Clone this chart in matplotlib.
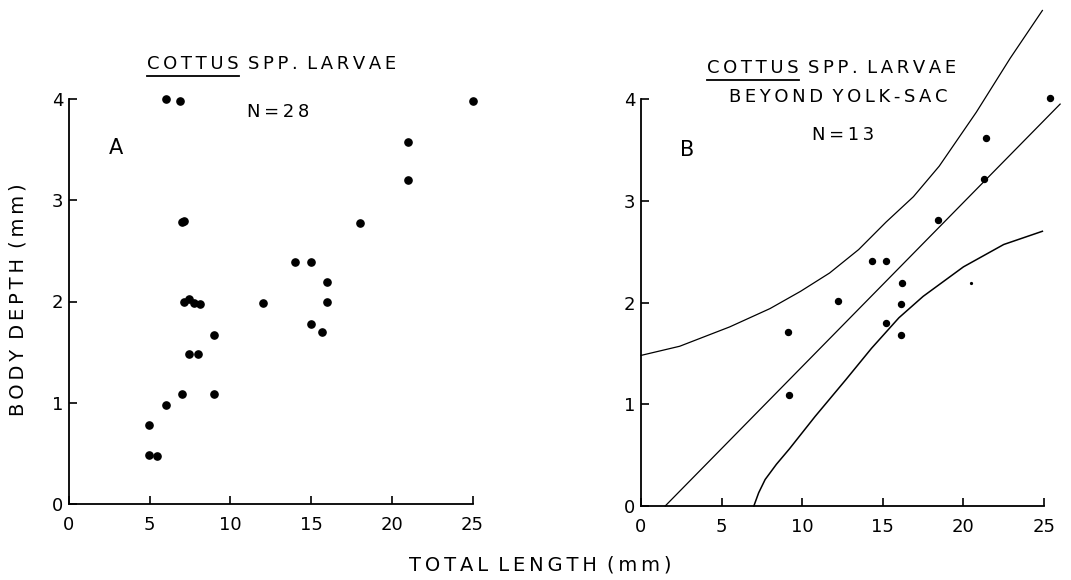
import matplotlib
matplotlib.use('Agg')
import matplotlib.pyplot as plt
from matplotlib.lines import Line2D

# A: all Cottus larvae, total length vs body depth (mm)
len_a = [6.0, 6.85, 7.0, 7.1, 7.15, 7.45, 7.75, 8.1, 12.0, 14.0, 15.0, 16.0,
         16.0, 15.0, 15.7, 9.0, 7.45, 8.0, 7.0, 9.0, 6.0, 4.95, 4.95, 5.45,
         18.0, 21.0, 21.0, 25.0]
depth_a = [4.0, 3.98, 2.79, 2.8, 2.0, 2.02, 1.99, 1.98, 1.99, 2.39, 2.39, 2.19,
           2.0, 1.78, 1.7, 1.67, 1.48, 1.48, 1.09, 1.09, 0.98, 0.78, 0.48, 0.47,
           2.78, 3.58, 3.2, 3.98]

# B: larvae beyond yolk-sac
len_b = [9.15, 9.2, 12.2, 14.35, 15.2, 15.2, 16.1, 16.2, 16.1, 18.4, 21.3, 21.4, 25.4]
depth_b = [1.71, 1.09, 2.01, 2.41, 2.41, 1.80, 1.99, 2.19, 1.68, 2.81, 3.21, 3.62, 4.01]

# regression line and band
fit_x = [1.5, 26.0]
fit_y = [0.0, 3.95]
upper_x = [0, 2.4, 5.5, 8.0, 9.9, 11.7, 13.5, 15.2, 16.9, 18.5, 20.8, 22.9, 24.9]
upper_y = [1.48, 1.57, 1.76, 1.94, 2.11, 2.29, 2.52, 2.79, 3.04, 3.34, 3.87, 4.40, 4.87]
lower_x = [7.0, 7.3, 7.7, 8.4, 9.2, 10.8, 12.7, 14.3, 16.0, 17.5, 20.0, 22.5, 24.9]
lower_y = [0.0, 0.13, 0.26, 0.41, 0.56, 0.88, 1.24, 1.55, 1.85, 2.06, 2.35, 2.57, 2.70]

speck_x = [20.5]
speck_y = [2.19]

x_ticks = [0, 5, 10, 15, 20, 25]
y_ticks = [0, 1, 2, 3, 4]

W, H = 1071, 580


def sp(s):
    # lettering-guide look: thin space between every letter
    return '\u2009'.join(s)


def fx(px):
    return px / W


def fy(py):
    return 1 - py / H


fig = plt.figure(figsize=(W / 100, H / 100), dpi=100)
axA = fig.add_axes([fx(69), fy(504), 403.5 / W, 405 / H])
axB = fig.add_axes([fx(641), fy(506), 403 / W, 407 / H])

for ax in (axA, axB):
    ax.set_xlim(0, 25)
    ax.set_ylim(0, 4)
    ax.set_xticks(x_ticks)
    ax.set_yticks(y_ticks)
    for s in ('top', 'right'):
        ax.spines[s].set_visible(False)
    for s in ('left', 'bottom'):
        ax.spines[s].set_linewidth(1.3)
    ax.tick_params(direction='in', length=6, width=1.2, labelsize=13)
    ax.tick_params(axis='x', pad=9)
    ax.tick_params(axis='y', pad=4)

axA.plot(len_a, depth_a, 'o', color='black', ms=5.2, clip_on=False)

axB.plot(fit_x, fit_y, color='black', lw=0.9, clip_on=False)
axB.plot(upper_x, upper_y, color='black', lw=0.9, clip_on=False)
axB.plot(lower_x, lower_y, color='black', lw=1.1, clip_on=False)
axB.plot(len_b, depth_b, 'o', color='black', ms=4.3, clip_on=False)
axB.plot(speck_x, speck_y, 'o', color='black', ms=1.3, clip_on=False)

tkw = dict(fontsize=13, ha='center', va='center', family='DejaVu Sans')
title = sp('COTTUS') + '\u2009 ' + sp('SPP.') + '\u2009 ' + sp('LARVAE')
tA = fig.text(fx(272), fy(64), title, **tkw)
tB = fig.text(fx(832), fy(68), title, **tkw)
fig.text(fx(838), fy(97), sp('BEYOND') + '\u2009 ' + sp('YOLK-SAC'), **tkw)
fig.text(fx(278), fy(112), sp('N=28'), **tkw)
fig.text(fx(843), fy(135), sp('N=13'), **tkw)
fig.text(fx(116), fy(148), 'A', fontsize=15, ha='center', va='center')
fig.text(fx(687), fy(150), 'B', fontsize=15, ha='center', va='center')

fig.text(fx(18), fy(300), sp('BODY') + '\u2009 ' + sp('DEPTH') + '\u2009 ' + sp('(mm)'),
         fontsize=14, rotation=90, ha='center', va='center')
fig.text(fx(540), fy(565), sp('TOTAL') + '\u2009 ' + sp('LENGTH') + '\u2009 ' + sp('(mm)'),
         fontsize=14, ha='center', va='center')

# underline the genus name
fig.canvas.draw()
r = fig.canvas.get_renderer()
for t in (tA, tB):
    bb = t.get_window_extent(r)
    tmp = fig.text(0, 0, sp('COTTUS'), fontsize=13, family='DejaVu Sans')
    w = tmp.get_window_extent(r).width
    tmp.remove()
    y = bb.y0 - 3
    fig.add_artist(Line2D([bb.x0 / W, (bb.x0 + w) / W], [y / H, y / H],
                          color='black', lw=1.3))

fig.savefig('out.png', dpi=100)
